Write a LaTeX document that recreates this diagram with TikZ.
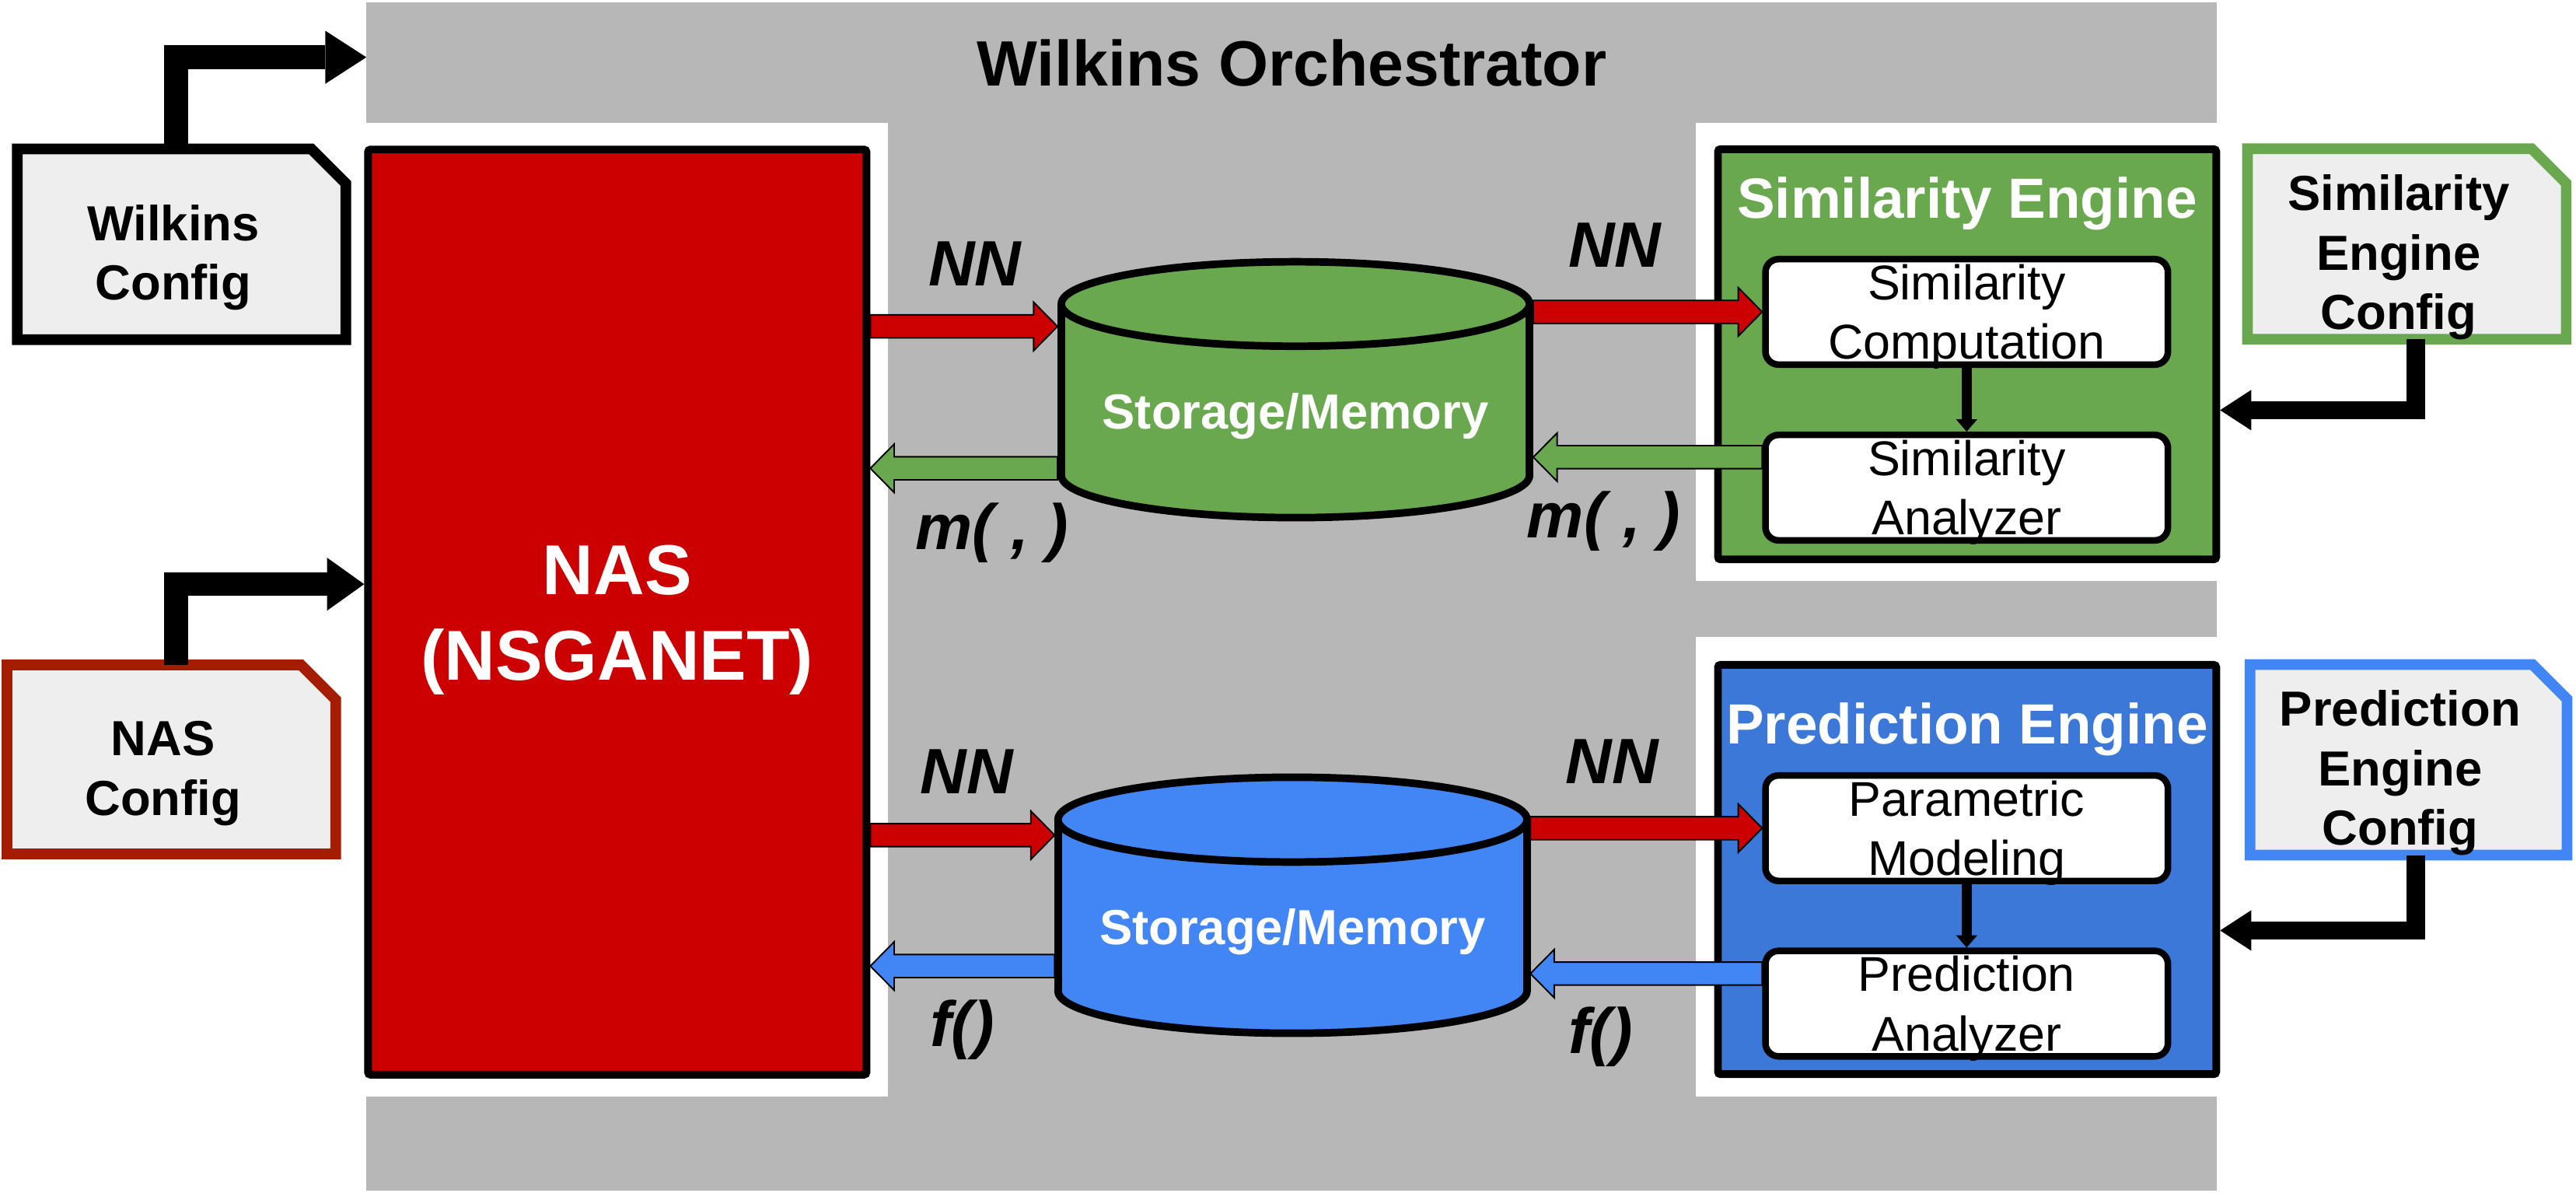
\documentclass[tikz,border=0pt]{standalone}
\usepackage{fontspec}
\setmainfont{Liberation Sans}
\usetikzlibrary{arrows.meta,calc,backgrounds}
\definecolor{bggray}{HTML}{B7B7B7}
\definecolor{nasred}{HTML}{CC0000}
\definecolor{sgreen}{HTML}{6AA84F}
\definecolor{cylblue}{HTML}{4285F4}
\definecolor{engblue}{HTML}{3C78D8}
\definecolor{cfgfill}{HTML}{EEEEEE}
\definecolor{nascfg}{HTML}{A61C00}
\newcommand\mlines[1]{\begin{tabular}[t]{@{}c@{}}#1\end{tabular}}
\begin{document}
\begin{tikzpicture}[x=1pt,y=-1pt,
  cfgtxt/.style={inner sep=0pt, outer sep=0pt, font=\bfseries\fontsize{30}{36.3}\selectfont,
     text height=31.5pt, text depth=36.3pt},
  cfgbox/.style={line width=6.5pt, fill=cfgfill, line join=miter},
  enginebox/.style={draw=black, line width=4.7pt, rounded corners=1.5pt, inner sep=0pt,
     minimum width=303.3pt, text=white, font=\bfseries\fontsize{34.5}{41}\selectfont},
  innerbox/.style={draw=black, line width=4pt, fill=white, rounded corners=8pt, inner sep=0pt,
     minimum width=245pt, minimum height=64.2pt, font=\fontsize{29.7}{36.3}\selectfont,
     text height=21.3pt, text depth=36.3pt},
  cyltxt/.style={inner sep=0pt, outer sep=0pt, text=white, font=\bfseries\fontsize{30}{36}\selectfont,
     minimum width=289.6pt, text depth=0pt},
  lbl/.style={inner sep=0pt, anchor=base, font=\bfseries\itshape\fontsize{39}{46}\selectfont},
  blk/.style={draw=black, line width=0.9pt, line join=miter},
  blockR/.style={to path={let \p1=(\tikztostart), \p2=(\tikztotarget) in
     (\x1,\y1+7pt) -- (\x2-14.5pt,\y1+7pt) -- (\x2-14.5pt,\y1+14.7pt) -- (\x2,\y1)
     -- (\x2-14.5pt,\y1-14.7pt) -- (\x2-14.5pt,\y1-7pt) -- (\x1,\y1-7pt) -- cycle}},
  blockL/.style={to path={let \p1=(\tikztostart), \p2=(\tikztotarget) in
     (\x1,\y1+7pt) -- (\x2+14.5pt,\y1+7pt) -- (\x2+14.5pt,\y1+14.7pt) -- (\x2,\y1)
     -- (\x2+14.5pt,\y1-14.7pt) -- (\x2+14.5pt,\y1-7pt) -- (\x1,\y1-7pt) -- cycle}},
  elbowbig/.style={draw=black, line width=14.5pt, line join=miter},
  elbowsmall/.style={draw=black, line width=11pt, line join=miter,
     -{Triangle[length=19pt,width=24.7pt,line width=0pt]}},
  downarrow/.style={draw=black, line width=6pt,
     -{Triangle[length=7.5pt,width=13pt,line width=0pt]}}
]
\useasboundingbox (0,0) rectangle (1568,726);

% ---------------- orchestrator background ----------------
\node[fill=bggray, minimum width=1126.5pt, minimum height=723pt, inner sep=0pt, outer sep=0pt]
  (orch) at (786.25,362.9) {};
\fill[white] (222,74.6) rectangle (540.5,667.3);
\fill[white] (1032.3,74.6) rectangle (1351,353.7);
\fill[white] (1032.3,387.8) rectangle (1351,667.3);
\node[inner sep=0pt, anchor=base, font=\bfseries\fontsize{39}{46}\selectfont]
  (orchtitle) at (786.3,52.5) {Wilkins Orchestrator};

% ---------------- config files ----------------
\node[cfgtxt, minimum width=200pt, minimum height=116pt] (wcfg) at (110.5,148.65)
  {\mlines{Wilkins\\Config}\hspace*{10pt}};
\node[cfgtxt, minimum width=200pt, minimum height=115pt] (ncfg) at (104.3,462.2)
  {\mlines{NAS\\Config}\hspace*{10pt}};
\node[cfgtxt, minimum width=194pt, minimum height=116pt, text depth=72.6pt] (scfg) at (1465,148.5)
  {\mlines{Similarity\\Engine\\Config}\hspace*{10pt}};
\node[cfgtxt, minimum width=193pt, minimum height=116pt, text depth=72.6pt] (pcfg) at (1466,462.4)
  {\mlines{Prediction\\Engine\\Config}\hspace*{10pt}};
\begin{scope}[on background layer]
  \draw[cfgbox, draw=black] (wcfg.north west) -- ([xshift=-21pt]wcfg.north east)
    -- ([yshift=-21pt]wcfg.north east) -- (wcfg.south east) -- (wcfg.south west) -- cycle;
  \draw[cfgbox, draw=nascfg] (ncfg.north west) -- ([xshift=-21pt]ncfg.north east)
    -- ([yshift=-21pt]ncfg.north east) -- (ncfg.south east) -- (ncfg.south west) -- cycle;
  \draw[cfgbox, draw=sgreen] (scfg.north west) -- ([xshift=-21pt]scfg.north east)
    -- ([yshift=-21pt]scfg.north east) -- (scfg.south east) -- (scfg.south west) -- cycle;
  \draw[cfgbox, draw=cylblue] (pcfg.north west) -- ([xshift=-21pt]pcfg.north east)
    -- ([yshift=-21pt]pcfg.north east) -- (pcfg.south east) -- (pcfg.south west) -- cycle;
\end{scope}

% ---------------- NAS ----------------
\node[draw=black, line width=4.7pt, fill=nasred, rounded corners=1.5pt, inner sep=0pt,
  minimum width=303.4pt, minimum height=563pt, text=white,
  font=\bfseries\fontsize{43}{52}\selectfont, text height=30.8pt, text depth=52pt]
  (nas) at (375.7,372.5) {\mlines{NAS\\(NSGANET)}};

% ---------------- cylinders ----------------
\draw[fill=sgreen, line width=4.6pt] (788.5,289.3) ellipse [x radius=142.5, y radius=25.7];
\fill[sgreen] (646,185) rectangle (931,289.3);
\draw[line width=4.6pt] (646,185) -- (646,289.3) (931,185) -- (931,289.3);
\draw[fill=sgreen, line width=4.6pt] (788.5,185) ellipse [x radius=142.5, y radius=25.7];
\node[cyltxt, minimum height=160pt, text height=48pt] (cylA) at (788.5,237) {Storage/Memory};

\draw[fill=cylblue, line width=4.6pt] (786.75,603) ellipse [x radius=142.75, y radius=25.8];
\fill[cylblue] (644,498.8) rectangle (929.5,603);
\draw[line width=4.6pt] (644,498.8) -- (644,603) (929.5,498.8) -- (929.5,603);
\draw[fill=cylblue, line width=4.6pt] (786.75,498.8) ellipse [x radius=142.75, y radius=25.8];
\node[cyltxt, minimum height=160.4pt, text height=48.4pt] (cylB) at (786.75,550.8) {Storage/Memory};

% ---------------- engines ----------------
\node[enginebox, fill=sgreen, minimum height=249.6pt, text height=0pt, text depth=166pt]
  (se) at (1197.35,215.6) {Similarity Engine};
\node[enginebox, fill=engblue, minimum height=249.1pt, text height=0pt, text depth=153.3pt]
  (pe) at (1197.35,529.15) {Prediction Engine};

\node[innerbox] (simcomp) at (1197.1,189.8) {\mlines{Similarity\\Computation}};
\node[innerbox] (simana) at (1197.1,296.75) {\mlines{Similarity\\Analyzer}};
\node[innerbox] (parmod) at (1197.1,504) {\mlines{Parametric\\Modeling}};
\node[innerbox] (predana) at (1197.1,610.75) {\mlines{Prediction\\Analyzer}};

\draw[downarrow] (simcomp.south) -- (simana.north);
\draw[downarrow] (parmod.south) -- (predana.north);

% ---------------- block arrows ----------------
\draw[blk, fill=nasred] (nas.east |- 0,198.65) to[blockR] (cylA.west |- 0,198.65);
\draw[blk, fill=nasred] (cylA.east |- simcomp.west) to[blockR] (simcomp.west);
\draw[blk, fill=sgreen] (simana.west |- 0,278.2) to[blockL] (cylA.east |- 0,278.2);
\draw[blk, fill=sgreen] (cylA.west |- 0,285) to[blockL] (nas.east |- 0,285);
\draw[blk, fill=nasred] (nas.east |- 0,508.25) to[blockR] (cylB.west |- 0,508.25);
\draw[blk, fill=nasred] (cylB.east |- parmod.west) to[blockR] (parmod.west);
\draw[blk, fill=cylblue] (predana.west |- 0,592.5) to[blockL] (cylB.east |- 0,592.5);
\draw[blk, fill=cylblue] (cylB.west |- 0,587.9) to[blockL] (nas.east |- 0,587.9);

% ---------------- config arrows ----------------
\draw[elbowbig, -{Triangle[length=25pt,width=32.3pt,line width=0pt]}]
  (wcfg.north -| 107.25,0) |- (orch.west |- 0,34.85);
\draw[elbowbig, -{Triangle[length=22.6pt,width=32.3pt,line width=0pt]}]
  (ncfg.north -| 107.25,0) |- (nas.west |- 0,355.5);
\draw[elbowsmall] (scfg.south -| 1470.5,0) |- (se.east |- 0,249.6);
\draw[elbowsmall] (pcfg.south -| 1470.5,0) |- (pe.east |- 0,566.25);

% ---------------- labels ----------------
\node[lbl] (nn1) at (593.5,173.8) {NN};
\node[lbl] (nn2) at (982.8,162.8) {NN};
\node[lbl] (nn3) at (588.4,483.1) {NN};
\node[lbl] (nn4) at (981.3,476.7) {NN};
\node[lbl] (m1) at (603.7,334.5) {m( , )};
\node[lbl] (m2) at (976,327.3) {m( , )};
\node[lbl] (f1) at (585.7,637) {f()};
\node[lbl] (f2) at (974.2,641) {f()};
\end{tikzpicture}
\end{document}
